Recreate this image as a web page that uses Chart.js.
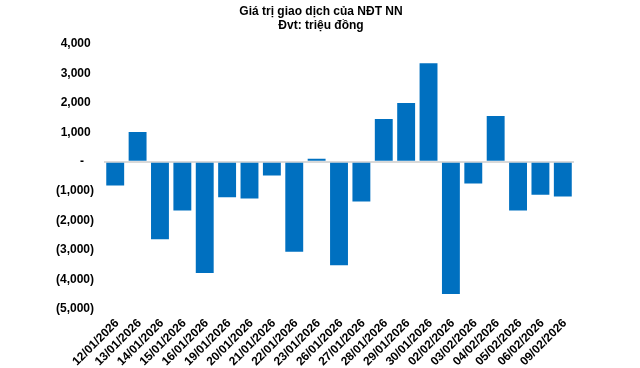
<!DOCTYPE html>
<html>
<head>
<meta charset="utf-8">
<script src="https://cdn.jsdelivr.net/npm/chart.js@4"></script>
<style>
  body { margin: 0; background: #fff; }
  #wrap { width: 640px; height: 368px; }
</style>
</head>
<body>
<div id="wrap"><canvas id="barChart" width="640" height="368"></canvas></div>
<script>
const dates = [
  "12/01/2026", "13/01/2026", "14/01/2026", "15/01/2026", "16/01/2026",
  "19/01/2026", "20/01/2026", "21/01/2026", "22/01/2026", "23/01/2026",
  "26/01/2026", "27/01/2026", "28/01/2026", "29/01/2026", "30/01/2026",
  "02/02/2026", "03/02/2026", "04/02/2026", "05/02/2026", "06/02/2026",
  "09/02/2026",
];

const netValue = [
  -810, 1010, -2630, -1660, -3780, -1210, -1250, -470, -3060, 100,
  -3510, -1350, 1450, 1990, 3340, -4490, -740, 1550, -1660, -1120,
  -1180,
];

const titleLines = ["Giá trị giao dịch của NĐT NN", "Đvt: triệu đồng"];

const fmt = (v) => {
  if (v === 0) return "-   ";
  const s = Math.abs(v).toLocaleString("en-US");
  return v < 0 ? "(" + s + ")" : s + " ";
};

const data = {
  labels: dates,
  datasets: [
    {
      label: "NĐT NN",
      backgroundColor: "#0070C0",
      data: netValue,
      barPercentage: 0.8,
      categoryPercentage: 1.0,
    },
  ],
};

const config_bar = {
  type: "bar",
  data: data,
  options: {
    responsive: false,
    animation: false,
    layout: { padding: { left: 46, right: 44, top: 4, bottom: 0 } },
    plugins: {
      legend: { display: false },
      tooltip: { enabled: false },
      title: {
        display: true,
        text: titleLines,
        color: "#000",
        font: { family: "Liberation Sans", size: 12, weight: "bold", lineHeight: 1.2 },
        padding: { top: 0, bottom: 11 },
      },
    },
    scales: {
      x: {
        grid: { display: false },
        border: { display: false },
        ticks: {
          color: "#000",
          font: { family: "Liberation Sans", size: 12, weight: "bold", lineHeight: 1 },
          maxRotation: 45,
          minRotation: 45,
          autoSkip: false,
          labelOffset: 2,
          padding: 0,
        },
      },
      y: {
        min: -5000,
        max: 4000,
        border: { display: false },
        grid: {
          drawTicks: false,
          lineWidth: (ctx) => (ctx.tick && ctx.tick.value === 0 ? 2 : 0),
          color: (ctx) => (ctx.tick && ctx.tick.value === 0 ? "#d9d9d9" : "rgba(0,0,0,0)"),
        },
        ticks: {
          stepSize: 1000,
          color: "#000",
          padding: 10,
          font: { family: "Liberation Sans", size: 12, weight: "bold" },
          callback: (v) => fmt(v),
        },
      },
      // empty right-hand spacer so the title centres on the page like the original
      spacer: {
        type: "linear",
        position: "right",
        grid: { display: false },
        border: { display: false },
        ticks: { display: false },
        afterFit: (axis) => {
          axis.width = 22;
        },
      },
    },
  },
};

const myBarChart = new Chart(document.getElementById("barChart"), config_bar);
</script>
</body>
</html>
